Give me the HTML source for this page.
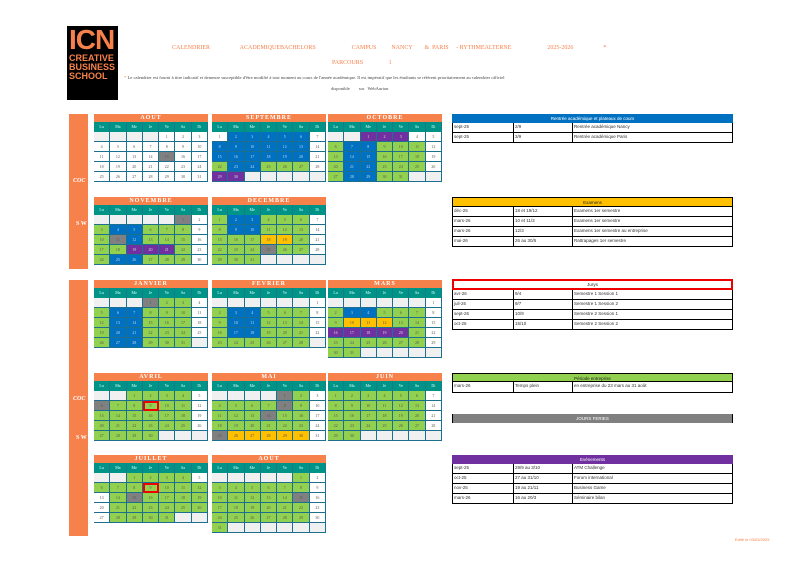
<!DOCTYPE html>
<html><head><meta charset="utf-8">
<style>
body{margin:0;width:800px;height:566px;background:#fff;position:relative;overflow:hidden;font-family:"Liberation Serif",serif;}
.abs{position:absolute;}
.cal{position:absolute;width:114px;}
.mh{height:8px;background:#f7814b;color:#fff;font-size:6px;line-height:8px;text-align:center;font-weight:bold;letter-spacing:1px;}
.dn{display:flex;height:10px;background:#009488;}
.dn div{flex:1;color:#dff;font-size:4px;line-height:10px;text-align:center;border-right:1px solid #1b7a8a;}
.row{display:flex;height:10px;}
.row div{flex:1;font-size:4px;line-height:9px;text-align:center;border:1px solid #1d6f8f;border-top:none;border-left:none;box-sizing:border-box;color:#555;}
.w{background:#fff}.g{background:#92d050}.b{background:#0070c0;color:#cde!important}.p{background:#7030a0;color:#ddd!important}.x{background:#808080}.y{background:#ffc000}.e{background:#f0f0f0}
.tbl{position:absolute;left:452px;width:281px;font-family:"Liberation Sans",sans-serif;font-size:4.5px;}
.th{height:9px;line-height:9px;text-align:center;color:#222;}
.tr{display:flex;height:10px;border:1px solid #000;border-top:none;box-sizing:border-box;line-height:8px;color:#333;}
.tr div{padding-left:1px;border-right:1px solid #000;}
.tr div:nth-child(1){width:59px}.tr div:nth-child(2){width:57px}.tr div:nth-child(3){flex:1;border:none}
.side{position:absolute;left:69px;width:19px;background:#f7814b;}
.sl{position:absolute;color:#fff;font-size:6px;font-style:italic;font-weight:bold;}
</style></head><body>
<div class="abs" style="left:67px;top:26px;width:51px;height:74px;background:#000;color:#f7814b;font-family:'Liberation Sans',sans-serif;font-weight:bold;">
<div style="font-size:28px;line-height:28px;padding-left:2px;letter-spacing:-1px;">ICN</div>
<div style="font-size:9px;line-height:9px;padding-left:2px;">CREATIVE<br>BUSINESS<br>SCHOOL</div>
</div>
<div class="abs" style="left:172px;top:45px;width:520px;color:#f7814b;font-size:6px;white-space:pre;">CALENDRIER                    ACADEMIQUEBACHELORS                        CAMPUS          NANCY        &amp;  PARIS     - RYTHMEALTERNE                        2025-2026                    *</div>
<div class="abs" style="left:332px;top:60px;color:#f7814b;font-size:6px;white-space:pre;">PARCOURS                 1</div>
<div class="abs" style="left:124px;top:75px;color:#444;font-size:4.6px;white-space:nowrap;"><span style="color:#f7814b">*</span> Le calendrier est fourni à titre indicatif et demeure susceptible d'être modifié à tout moment au cours de l'année académique. Il est impératif que les étudiants se réfèrent prioritairement au calendrier officiel</div>
<div class="abs" style="left:331px;top:86px;color:#444;font-size:4.5px;white-space:pre;">disponible        sur   WebAurion</div>

<div class="side" style="top:114px;height:155px;"></div>
<div class="side" style="top:280px;height:256px;"></div>
<div class="sl" style="left:73px;top:178px;">COC</div>
<div class="sl" style="left:76px;top:221px;font-style:normal;">S W</div>
<div class="sl" style="left:73px;top:396px;">COC</div>
<div class="sl" style="left:76px;top:435px;font-style:normal;">S W</div>

<div id="cals"></div>

<div class="tbl" style="top:114px">
<div class="th" style="background:#0070c0;color:#fff;">Rentrée académique et plateaux de cours</div>
<div class="tr"><div>sept-25</div><div>2/9</div><div>Rentrée académique Nancy</div></div>
<div class="tr"><div>sept-25</div><div>3/9</div><div>Rentrée académique Paris</div></div>
</div>
<div class="tbl" style="top:197px">
<div class="th" style="background:#ffc000;height:10px;line-height:10px;border:1px solid #000;box-sizing:border-box;">Examens</div>
<div class="tr"><div>déc-25</div><div>18 et 19/12</div><div>Examens 1er semestre</div></div>
<div class="tr"><div>mars-26</div><div>10 et 11/3</div><div>Examens 1er semestre</div></div>
<div class="tr"><div>mars-26</div><div>12/3</div><div>Examens 1er semestre au entreprise</div></div>
<div class="tr"><div>mai-26</div><div>26 au 30/5</div><div>Rattrapages 1er semestre</div></div>
</div>
<div class="tbl" style="top:279px">
<div class="th" style="border:2px solid #e00;height:11px;line-height:7px;box-sizing:border-box;">Jurys</div>
<div class="tr"><div>avr-26</div><div>9/4</div><div>Semestre 1 Session 1</div></div>
<div class="tr"><div>juil-26</div><div>9/7</div><div>Semestre 1 Session 2</div></div>
<div class="tr"><div>sept-26</div><div>10/9</div><div>Semestre 2 Session 1</div></div>
<div class="tr"><div>oct-26</div><div>15/10</div><div>Semestre 2 Session 2</div></div>
</div>
<div class="tbl" style="top:373px">
<div class="th" style="background:#92d050;border:1px solid #000;box-sizing:border-box;">Période entreprise</div>
<div class="tr" style="height:11px"><div>mars-26</div><div>Temps plein</div><div>en entreprise du 23 mars au 31 août</div></div>
</div>
<div class="tbl" style="top:414px">
<div class="th" style="background:#808080;color:#fff;border-left:1px solid #000;border-right:1px solid #000;">JOURS FERIES</div>
</div>
<div class="tbl" style="top:455px">
<div class="th" style="background:#7030a0;color:#fff;">Evénements</div>
<div class="tr"><div>sept-25</div><div>29/9 au 3/10</div><div>ATM Challenge</div></div>
<div class="tr"><div>oct-25</div><div>27 au 31/10</div><div>Forum international</div></div>
<div class="tr"><div>nov-25</div><div>19 au 21/11</div><div>Business Game</div></div>
<div class="tr"><div>mars-26</div><div>16 au 20/3</div><div>Séminaire bilan</div></div>
</div>
<div class="abs" style="left:735px;top:537px;font-size:4px;color:#f7814b;font-family:'Liberation Sans',sans-serif;">Edité le 03/03/2025</div>

<script>
const monthNames=["AOUT","SEPTEMBRE","OCTOBRE","NOVEMBRE","DECEMBRE","JANVIER","FEVRIER","MARS","AVRIL","MAI","JUIN","JUILLET","AOÛT"];
const monthOffsets=[4,0,2,5,0,3,6,6,2,4,0,2,5];
const monthDays=[31,30,31,30,31,31,28,31,30,31,30,31,31];
const monthColors=[
"wwwwwwwwwwwwwwxwwwwwwwwwwwwwwwww",
"wbbbbbwbbbbbbwbbbbbbwgbbgggwpp",
"pppwwgbbgggwgbbgggwgbbgggwgbbgg",
"xwgbbgggwgxbgggwggpppgwgbbgggw",
"gbbgggwgbbgggwgggyygwgggxggwggg",
"xggwgbbgggwgbbgggwgbbgggwgbbggg",
"wgbbgggwgbbgggwgbbgggwgggggg",
"wgbbgggwgyyyggwpppppgwggggggwgg",
"ggggwxgggggwggggggwggggggwgggg",
"xgwggggxgwgggxggwggggggwxyyyyyw",
"ggggggwggggggwggggggwggggggwgg",
"ggggwgggggggwgxggggwggggggwggggg",
"gwggggggwgggggxwggggggwggggggwg"];
const monthX=[94,212,328,94,212,94,212,328,94,212,328,94,212];
const monthY=[114,114,114,197,197,280,280,280,373,373,373,455,455];
const redBorder={8:9,11:9};
const dnames=["Lu","Ma","Me","Je","Ve","Sa","Di"];
const root=document.getElementById('cals');
monthNames.forEach((nm,i)=>{
  const c=document.createElement('div');c.className='cal';
  
  
  c.style.left=monthX[i]+'px';c.style.top=monthY[i]+'px';
  let h='<div class="mh">'+nm+'</div><div class="dn">'+dnames.map(d=>'<div>'+d+'</div>').join('')+'</div>';
  const off=monthOffsets[i],n=monthDays[i],rows=Math.ceil((off+n)/7);
  for(let r=0;r<rows;r++){
    h+='<div class="row">';
    for(let k=0;k<7;k++){
      const d=r*7+k-off+1;
      if(d<1||d>n) h+='<div class="e"></div>';
      else{
        const cl=monthColors[i][d-1]||'w';
        const st=redBorder[i]===d?' style="outline:2px solid #e00;outline-offset:-2px"':'';
        h+='<div class="'+cl+'"'+st+'>'+d+'</div>';
      }
    }
    h+='</div>';
  }
  c.innerHTML=h;root.appendChild(c);
});
</script>
</body></html>
